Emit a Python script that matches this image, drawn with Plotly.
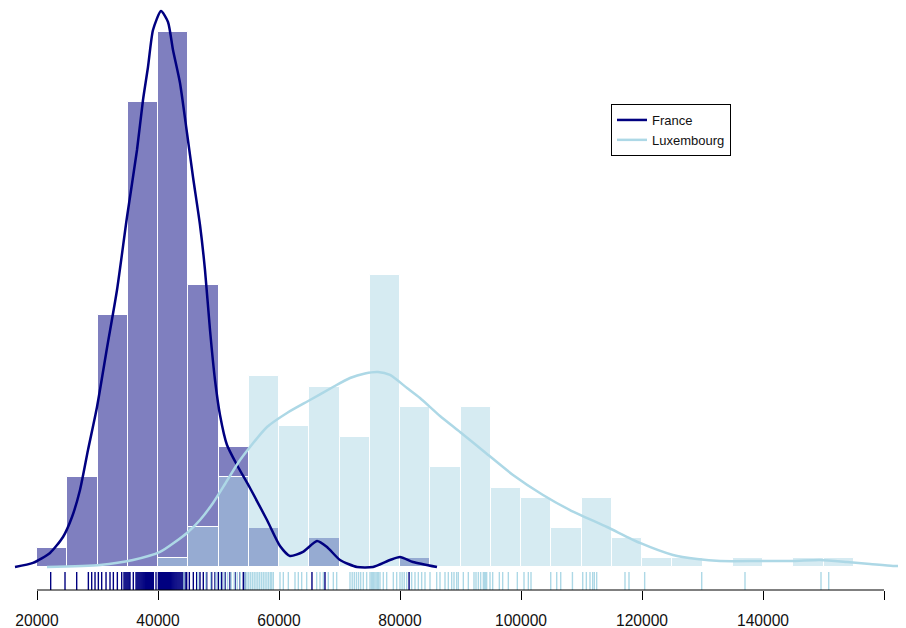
import plotly.graph_objects as go

# ---------------- data ----------------
# histogram bins (left edges, width 5000)
bin_left = [20000, 25000, 30000, 35000, 40000, 45000, 50000, 55000, 60000, 65000,
            70000, 75000, 80000, 85000, 90000, 95000, 100000, 105000, 110000, 115000,
            120000, 125000, 130000, 135000, 140000, 145000, 150000, 155000]
bin_width = 5000

# histogram densities (x 1e-6)
france_hist = [2.07, 9.81, 27.47, 50.69, 58.32, 30.74, 13.08, 4.25, 0, 3.16,
               0, 0, 0.98, 0, 0, 0, 0, 0, 0, 0,
               0, 0, 0, 0, 0, 0, 0, 0]
lux_hist = [0, 0, 0, 0, 0.98, 4.36, 9.81, 20.82, 15.37, 19.62,
            14.17, 31.83, 17.44, 10.90, 17.44, 8.61, 7.52, 4.25, 7.52, 3.16,
            0.98, 0.98, 0, 0.98, 0, 0.98, 0.98, 0]

# kernel density curves (x 1e-6)
france_kde_x = [16364, 19339, 22149, 24298, 25785, 27107, 28430, 29917, 31570, 33223,
                34876, 36529, 37521, 38347, 39174, 40496, 41653, 42479, 43636, 44793,
                45785, 46942, 47769, 48595, 49421, 50248, 51405, 53058, 55207, 58017,
                60165, 61818, 63967, 66281, 67934, 70083, 72893, 75537, 78347, 80000,
                82149, 86116]
france_kde_y = [0.0, 0.44, 1.53, 3.27, 5.45, 8.39, 12.75, 17.44, 23.87, 30.19,
                38.15, 45.45, 50.90, 54.50, 58.53, 60.60, 59.41, 56.35, 52.76, 47.31,
                42.51, 37.28, 32.37, 25.83, 20.38, 16.57, 13.30, 11.12, 8.61, 5.12,
                2.29, 1.20, 1.64, 2.83, 2.18, 0.76, 0.0, 0.0, 0.76, 1.09,
                0.55, 0.0]

lux_kde_x = [21653, 30413, 35868, 40331, 44793, 46942, 49091, 51074, 53223, 55207,
             58017, 61322, 65124, 68926, 71736, 74215, 76364, 78347, 81157, 83306,
             86612, 89918, 94380, 98678, 103636, 108099, 114215, 119669, 125124, 129091,
             132893, 139504, 144959, 149422, 153884, 157686, 161488, 163636]
lux_kde_y = [0.0, 0.22, 0.76, 1.64, 3.71, 5.12, 6.98, 9.05, 11.34, 13.08,
             15.26, 16.79, 18.20, 19.62, 20.60, 21.10, 21.26, 20.93, 19.51, 18.42,
             16.46, 14.72, 12.32, 10.03, 7.85, 6.21, 4.36, 2.62, 1.31, 0.87,
             0.65, 0.65, 0.65, 0.76, 0.55, 0.33, 0.11, 0.11]

# rug observations
france_rug = [22260, 24630, 26560, 28490, 29040, 29590, 30140, 30690, 31410, 32070,
              32620, 33280, 34000, 34380, 34550, 34720, 34890, 35060, 35230, 35370,
              35920, 36370, 36540, 36710, 36880, 37050, 37220, 37390, 37560, 37730,
              37900, 38070, 38240, 38410, 38580, 38750, 38920, 39090, 39230, 39670,
              40060, 40230, 40400, 40570, 40740, 40910, 41080, 41250, 41420, 41590,
              41760, 41930, 42100, 42270, 42440, 42610, 42780, 42950, 43120, 43290,
              43460, 43630, 43800, 43970, 44140, 44310, 44480, 44740, 45180, 45840,
              46390, 46940, 47490, 48050, 48870, 49420, 49970, 50530, 51080, 51900,
              52730, 53560, 54100, 54380, 65450, 67600, 81500]
lux_rug = [44300, 46600, 47900, 48700, 49600, 50300, 50900, 51500, 52100, 52600,
           53100, 53600, 54380, 54700, 55000, 55300, 55600, 55900, 56200, 56500,
           56800, 57100, 57400, 57700, 58000, 58300, 58600, 58800, 59060, 60165,
           60716, 61543, 62645, 63196, 63747, 64573, 66226, 66777, 67328, 68154,
           68981, 69532, 71736, 72100, 72450, 72800, 73150, 73500, 73939, 74490,
           75041, 75250, 75450, 75650, 75850, 76050, 76250, 76450, 76694, 77245,
           77796, 78898, 79449, 80000, 80350, 80700, 81102, 81928, 82479, 83030,
           83581, 84132, 84959, 86061, 86612, 87438, 87989, 88540, 88926, 89366,
           89642, 90468, 91295, 92231, 92562, 92948, 93333, 93774, 93950, 94150,
           94325, 94876, 95317, 96419, 96970, 97906, 99394, 100496, 101212, 101653,
           104912, 105903, 106565, 108500, 110201, 110800, 111405, 111846, 112121, 112507,
           117190, 117851, 120440, 129870, 137025, 149587, 150862]

tick_vals = [20000, 40000, 60000, 80000, 100000, 120000, 140000, 160000]
tick_text = ["20000", "40000", "60000", "80000", "100000", "120000", "140000", "160000"]

NAVY = "#000080"
LIGHT = "#ADD8E6"

# ---------------- figure ----------------
# the page body adds an 8px margin, so the figure is 898x620
W, H = 898, 620
Y_MIN, Y_MAX = -2.507, 60.93
RUG_TOP = -0.545

fig = go.Figure()

fig.add_trace(go.Bar(x=bin_left, y=france_hist, width=bin_width, offset=0,
                     marker=dict(color="rgba(0,0,128,0.5)", line=dict(color="white", width=1)),
                     showlegend=False, hoverinfo="skip"))
fig.add_trace(go.Bar(x=bin_left, y=lux_hist, width=bin_width, offset=0,
                     marker=dict(color="rgba(173,216,230,0.5)", line=dict(color="white", width=1)),
                     showlegend=False, hoverinfo="skip"))

fig.add_trace(go.Scatter(x=france_kde_x, y=france_kde_y, mode="lines", name="France",
                         line=dict(color=NAVY, width=2.5, shape="spline", smoothing=0.6)))
fig.add_trace(go.Scatter(x=lux_kde_x, y=lux_kde_y, mode="lines", name="Luxembourg",
                         line=dict(color=LIGHT, width=2.5, shape="spline", smoothing=0.6)))


def rug(values):
    xs, ys = [], []
    for v in values:
        xs += [v, v, None]
        ys += [Y_MIN, RUG_TOP, None]
    return xs, ys


rx, ry = rug(france_rug)
fig.add_trace(go.Scatter(x=rx, y=ry, mode="lines", line=dict(color=NAVY, width=1.4),
                         showlegend=False, hoverinfo="skip"))
rx, ry = rug(lux_rug)
fig.add_trace(go.Scatter(x=rx, y=ry, mode="lines", line=dict(color=LIGHT, width=1.4),
                         showlegend=False, hoverinfo="skip"))

# axis line limited to the tick span (R style)
fig.add_shape(type="line", xref="x", yref="paper", x0=tick_vals[0], x1=tick_vals[-1],
              y0=0, y1=0, line=dict(color="black", width=1))

fig.update_layout(
    width=W, height=H,
    margin=dict(l=0, r=0, t=0, b=38, autoexpand=False),
    paper_bgcolor="white", plot_bgcolor="white",
    barmode="overlay", bargap=0,
    font=dict(family="Liberation Sans, Arial, sans-serif", color="#111111"),
    xaxis=dict(range=[15207, 163636], showgrid=False, zeroline=False, showline=False,
               automargin=False,
               tickvals=tick_vals, ticktext=tick_text, ticks="outside", ticklen=9,
               tickwidth=1, tickcolor="black", tickfont=dict(size=15.6, color="#111111"),
               ticklabelstandoff=7),
    yaxis=dict(range=[Y_MIN, Y_MAX], visible=False),
    legend=dict(x=603 / W, y=1 - 96 / 582, xanchor="left", yanchor="top",
                bgcolor="white", bordercolor="black", borderwidth=1,
                font=dict(size=13, color="#111111"), itemwidth=30,
                tracegroupgap=0),
    showlegend=True,
)

fig.write_html("out.html")
